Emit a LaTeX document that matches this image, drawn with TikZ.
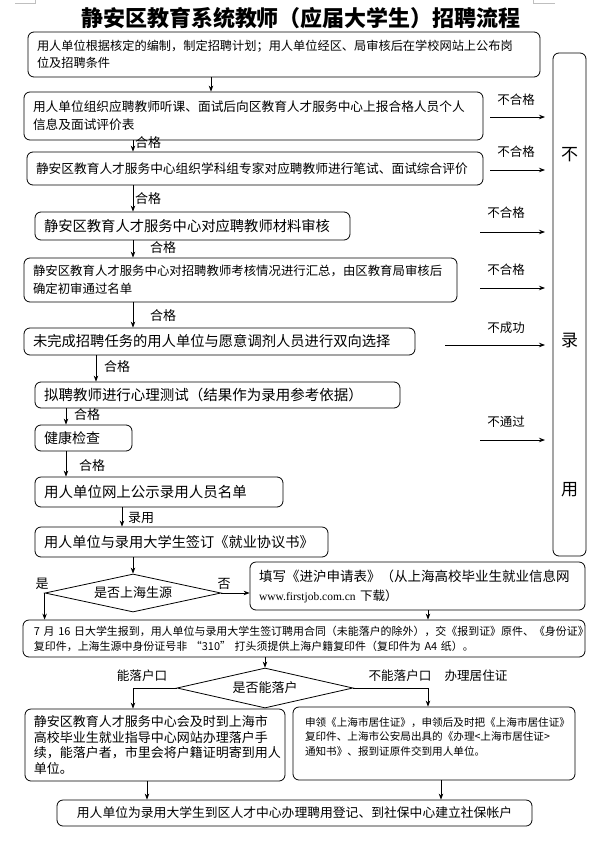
\documentclass[tikz,border=0pt]{standalone}
\usepackage{fontspec}
\setmainfont{Noto Sans CJK SC}
\newfontfamily\urlfont{Liberation Serif}
\usetikzlibrary{arrows.meta,shapes.geometric,calc}
\newcommand{\fsz}[2]{\fontsize{#1}{#2}\selectfont}
\begin{document}
\begin{tikzpicture}[x=1pt,y=-1pt,
  box/.style={draw, rounded corners=6pt, line width=0.8pt, inner xsep=9pt, inner ysep=0pt, align=left},
  cbox/.style={draw, rounded corners=6pt, line width=0.8pt, inner sep=0pt, align=center},
  dia/.style={draw, diamond, aspect=4.6, line width=0.8pt, inner sep=0pt, font=\fsz{13}{15}},
  arr/.style={-{Stealth[length=6pt,width=4.5pt]}, line width=0.8pt},
  lbl/.style={inner sep=0pt, font=\fsz{13}{15}},
  rlbl/.style={inner sep=0pt, font=\fsz{12.5}{14}},
  cornermark/.style={draw=black!25, line width=0.6pt}]
\useasboundingbox (0,0) rectangle (611,849);

% corner marks
\draw[cornermark] (15,3) -- (35,3) -- (35,0);
\draw[cornermark] (533,0) -- (533,3) -- (555,3);

% title
\node[inner sep=0pt, font=\bfseries\fsz{22}{24}] (title) at (301,18) {静安区教育系统教师（应届大学生）招聘流程};

% main boxes
\node[box, minimum width=512pt, minimum height=45pt, text width=494pt, font=\fsz{12.2}{17}] (b1) at (284,54.5)
  {用人单位根据核定的编制，制定招聘计划；用人单位经区、局审核后在学校网站上公布岗\\位及招聘条件};
\node[box, minimum width=459pt, minimum height=48pt, text width=441pt, font=\fsz{12.7}{18}] (b2) at (253.5,116)
  {用人单位组织应聘教师听课、面试后向区教育人才服务中心上报合格人员个人\\信息及面试评价表};
\node[box, minimum width=456pt, minimum height=33pt, text width=438pt, font=\fsz{12.7}{15}] (b3) at (255,168.5)
  {静安区教育人才服务中心组织学科组专家对应聘教师进行笔试、面试综合评价};
\node[box, minimum width=315pt, minimum height=28pt, text width=297pt, font=\fsz{14.3}{16}] (b4) at (192.5,226)
  {静安区教育人才服务中心对应聘教师材料审核};
\node[box, minimum width=433pt, minimum height=44pt, text width=415pt, font=\fsz{12.4}{18}] (b5) at (240.5,280)
  {静安区教育人才服务中心对招聘教师考核情况进行汇总，由区教育局审核后\\确定初审通过名单};
\node[box, minimum width=391pt, minimum height=27pt, text width=373pt, font=\fsz{14.3}{16}] (b6) at (219.5,341.5)
  {未完成招聘任务的用人单位与愿意调剂人员进行双向选择};
\node[box, minimum width=365pt, minimum height=26pt, text width=347pt, font=\fsz{14.5}{16}] (b7) at (217.5,395)
  {拟聘教师进行心理测试（结果作为录用参考依据）};
\node[box, minimum width=97pt, minimum height=26pt, text width=79pt, font=\fsz{14}{16}] (b8) at (83.5,438)
  {健康检查};
\node[box, minimum width=248pt, minimum height=30pt, text width=230pt, font=\fsz{14.5}{16}] (b9) at (159,492)
  {用人单位网上公示录用人员名单};
\node[box, minimum width=293pt, minimum height=30pt, text width=275pt, font=\fsz{14.2}{16}] (b10) at (181.5,542)
  {用人单位与录用大学生签订《就业协议书》};

% right column box
\node[cbox, minimum width=33pt, minimum height=503pt] (R) at (569.5,304.5) {};
\node[inner sep=0pt, font=\fsz{17}{18}] (rt1) at (569.5,155) {不};
\node[inner sep=0pt, font=\fsz{17}{18}] (rt2) at (569.5,340) {录};
\node[inner sep=0pt, font=\fsz{17}{18}] (rt3) at (569.5,490) {用};

% decision 1
\node[dia, minimum width=176pt, minimum height=38pt] (d1) at (133,593) {是否上海生源};
\node[box, minimum width=335pt, minimum height=48pt, text width=317pt, font=\fsz{13.5}{19}] (b11) at (417.5,586)
  {填写《进沪申请表》（从上海高校毕业生就业信息网\\{\urlfont\fsz{11.5}{19}www.firstjob.com.cn}{\fsz{12.5}{19} 下载）}};
\node[box, inner xsep=11pt, minimum width=562pt, minimum height=37pt, text width=540pt, font=\fsz{10.95}{15}] (b12) at (304,638.5)
  {7 月 16 日大学生报到，用人单位与录用大学生签订聘用合同（未能落户的除外），交《报到证》原件、《身份证》\\复印件，上海生源中身份证号非 “310” 打头须提供上海户籍复印件（复印件为 A4 纸）。};

% decision 2
\node[dia, minimum width=176pt, minimum height=40pt] (d2) at (265,688) {是否能落户};
\node[box, minimum width=260pt, minimum height=72pt, text width=242pt, font=\fsz{13}{15.5}] (b13) at (155,745)
  {静安区教育人才服务中心会及时到上海市\\高校毕业生就业指导中心网站办理落户手\\续，能落户者，市里会将户籍证明寄到用人\\单位。};
\node[box, inner xsep=12pt, minimum width=282pt, minimum height=73pt, text width=258pt, font=\fsz{10.6}{14.5}] (b14) at (434,743.5)
  {申领《上海市居住证》，申领后及时把《上海市居住证》\\复印件、上海市公安局出具的《办理<上海市居住证>\\通知书》、报到证原件交到用人单位。\\\mbox{}};
\node[cbox, minimum width=475pt, minimum height=26pt, font=\fsz{12.8}{15}] (b15) at (294.5,813)
  {用人单位为录用大学生到区人才中心办理聘用登记、到社保中心建立社保帐户};

% x positions for vertical connectors
\coordinate (xa) at (211,0);
\coordinate (xb) at (133,0);
\coordinate (xc) at (96,0);
\coordinate (xd) at (66,0);
\coordinate (xe) at (122,0);
\coordinate (xf) at (428,0);
\coordinate (xg) at (265,0);
\coordinate (xh) at (147,0);
\coordinate (xi) at (441,0);

\draw[arr] (b1.south -| xa) -- (b2.north -| xa);
\draw[arr] (b2.south -| xb) -- (b3.north -| xb);
\draw[arr] (b3.south -| xb) -- (b4.north -| xb);
\draw[arr] (b4.south -| xb) -- (b5.north -| xb);
\draw[arr] (b5.south -| xb) -- (b6.north -| xb);
\draw[arr] (b6.south -| xc) -- (b7.north -| xc);
\draw[arr] (b7.south -| xd) -- (b8.north -| xd);
\draw[arr] (b8.south -| xd) -- (b9.north -| xd);
\draw[arr] (b9.south -| xe) -- (b10.north -| xe);
\draw[arr] (b10.south -| xb) -- (d1.north);

\node[lbl] (g1) at (148,143) {合格};
\node[lbl] (g2) at (148,199) {合格};
\node[lbl] (g3) at (163,248) {合格};
\node[lbl] (g4) at (163,316) {合格};
\node[lbl] (g5) at (117,367) {合格};
\node[lbl] (g6) at (87,415) {合格};
\node[lbl] (g7) at (92,466) {合格};
\node[lbl] (g8) at (141,518) {录用};

% decision 1 branches
\draw[arr] (d1.west) -- (d1.west |- b12.north);
\draw[arr] (d1.east) -- (d1.east -| b11.west);
\draw[arr] (b11.south -| xf) -- (b12.north -| xf);
\node[lbl] (yes) at (42,584) {是};
\node[lbl] (no) at (224,584) {否};

% decision 2 branches
\draw[arr] (b12.south -| xg) -- (d2.north);
\draw[arr] (d2.west) -| (b13.north -| xb);
\draw[arr] (d2.east) -| (b14.north -| xf);
\node[lbl, font=\fsz{12.6}{14}] (can) at (142,676) {能落户口};
\node[lbl, font=\fsz{12.6}{14}] (cannot) at (400,676) {不能落户口};
\node[lbl, font=\fsz{12.6}{14}] (permit) at (476,676) {办理居住证};

\draw[arr] (b13.south -| xh) -- (b15.north -| xh);
\draw[arr] (b14.south -| xi) -- (b15.north -| xi);

% rejection arrows
\coordinate (s1) at (490,117); \coordinate (e1) at (545,117);
\coordinate (s2) at (490,170); \coordinate (e2) at (545,170);
\coordinate (s3) at (480,232); \coordinate (e3) at (545,232);
\coordinate (s4) at (480,288); \coordinate (e4) at (545,288);
\coordinate (s5) at (445,345); \coordinate (e5) at (545,345);
\coordinate (s6) at (480,440); \coordinate (e6) at (545,440);
\draw[arr] (s1) -- (e1);
\draw[arr] (s2) -- (e2);
\draw[arr] (s3) -- (e3);
\draw[arr] (s4) -- (e4);
\draw[arr] (s5) -- (e5);
\draw[arr] (s6) -- (e6);
\node[rlbl] (r1) at (516,100) {不合格};
\node[rlbl] (r2) at (516,152) {不合格};
\node[rlbl] (r3) at (506,213) {不合格};
\node[rlbl] (r4) at (506,270) {不合格};
\node[rlbl] (r5) at (506,328) {不成功};
\node[rlbl] (r6) at (506,422) {不通过};
\end{tikzpicture}
\end{document}
